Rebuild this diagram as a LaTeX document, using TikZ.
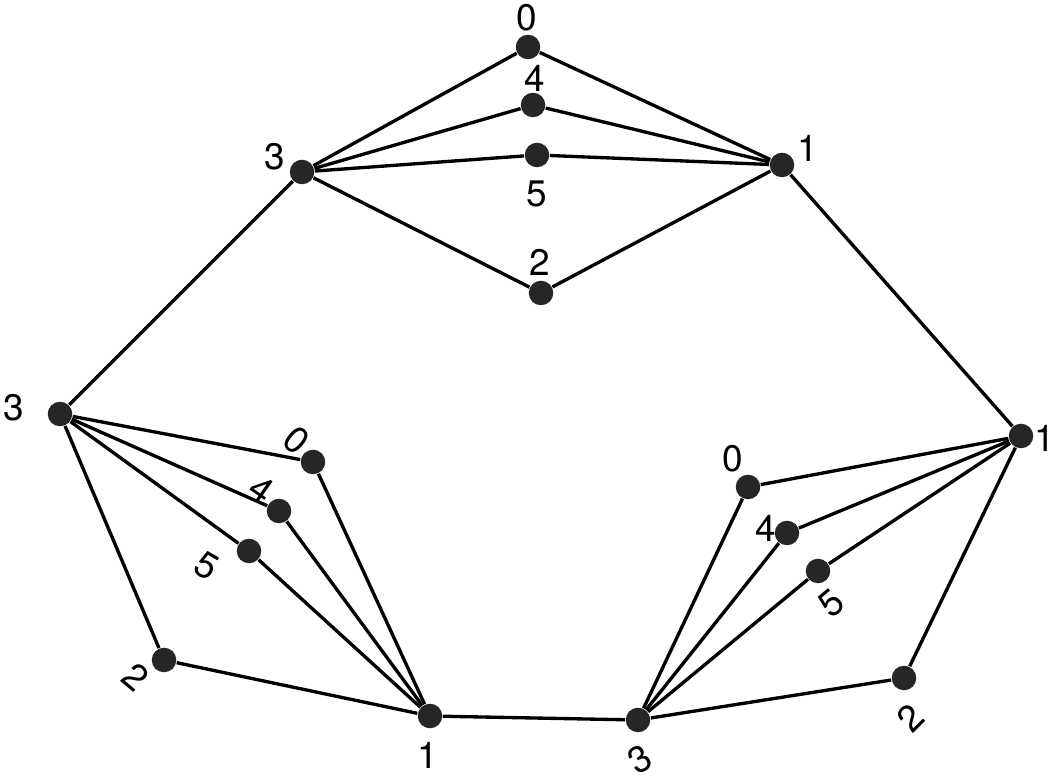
\documentclass[tikz,border=0pt]{standalone}
\usepackage{fontspec}
\setmainfont{TeX Gyre Heros}
\begin{document}
\begin{tikzpicture}[
  x=0.01cm, y=-0.01cm,
  vnode/.style={circle, fill=black!85, inner sep=0pt, minimum size=0.245cm},
  edge/.style={line width=0.95pt, draw=black},
  lbl/.style={font=\fontsize{10.5}{11}\selectfont, inner sep=0pt}
]
  \useasboundingbox (0,0) rectangle (1055,780);

  % Grupo superior
  \node[vnode] (a0) at (528,47) {};
  \node[vnode] (a4) at (533,105) {};
  \node[vnode] (a5) at (537,155) {};
  \node[vnode] (a2) at (541,293) {};
  \node[vnode] (a3) at (302,172) {};
  \node[vnode] (a1) at (782,165) {};

  % Grupo izquierdo
  \node[vnode] (b3) at (60,414) {};
  \node[vnode] (b0) at (313,462) {};
  \node[vnode] (b4) at (279,511) {};
  \node[vnode] (b5) at (249,551) {};
  \node[vnode] (b2) at (164,660) {};
  \node[vnode] (b1) at (430,716) {};

  % Grupo derecho
  \node[vnode] (c1) at (1021,436) {};
  \node[vnode] (c0) at (748,487) {};
  \node[vnode] (c4) at (787,533) {};
  \node[vnode] (c5) at (818,571) {};
  \node[vnode] (c2) at (904,678) {};
  \node[vnode] (c3) at (638,720) {};

  % Aristas
  \foreach \v in {a0,a4,a5,a2} {
    \draw[edge] (a3) -- (\v); \draw[edge] (a1) -- (\v);
  }
  \foreach \v in {b0,b4,b5,b2} {
    \draw[edge] (b3) -- (\v); \draw[edge] (b1) -- (\v);
  }
  \foreach \v in {c0,c4,c5,c2} {
    \draw[edge] (c1) -- (\v); \draw[edge] (c3) -- (\v);
  }
  \draw[edge] (a3) -- (b3);
  \draw[edge] (a1) -- (c1);
  \draw[edge] (b1) -- (c3);

  % Etiquetas
  \node[lbl] (la0) at (527,18) {0};
  \node[lbl] (la4) at (535,78) {4};
  \node[lbl] (la5) at (537,194) {5};
  \node[lbl] (la2) at (540,262) {2};
  \node[lbl] (la3) at (275,157) {3};
  \node[lbl] (la1) at (808,148) {1};

  \node[lbl] (lb3) at (14,408) {3};
  \node[lbl, rotate=-40] (lb0) at (297,440) {0};
  \node[lbl, rotate=-35] (lb4) at (261,490) {4};
  \node[lbl, rotate=-30] (lb5) at (207,566) {5};
  \node[lbl, rotate=-40] (lb2) at (136,677) {2};
  \node[lbl] (lb1) at (428,755) {1};

  \node[lbl] (lc1) at (1045,438) {1};
  \node[lbl] (lc0) at (733,459) {0};
  \node[lbl] (lc4) at (766,528) {4};
  \node[lbl, rotate=40] (lc5) at (831,603) {5};
  \node[lbl, rotate=45] (lc2) at (910,718) {2};
  \node[lbl, rotate=30] (lc3) at (640,759) {3};
\end{tikzpicture}
\end{document}
